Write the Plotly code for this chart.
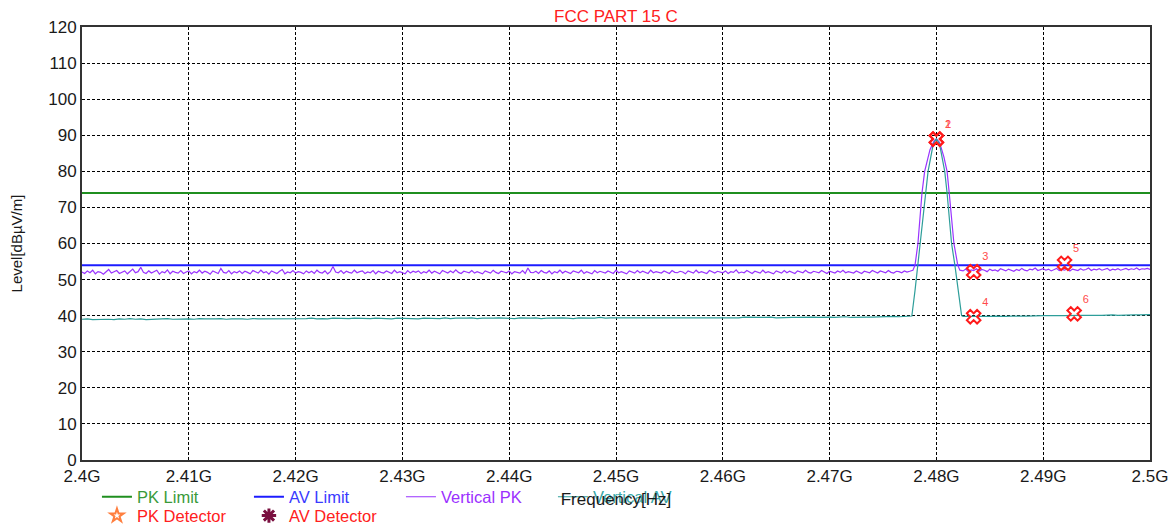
import numpy as np
import plotly.graph_objects as go

# ---------------- data ----------------
PK_LIMIT = 74.0
AV_LIMIT = 54.0

x_ticks = [2.40, 2.41, 2.42, 2.43, 2.44, 2.45, 2.46, 2.47, 2.48, 2.49, 2.50]
x_tick_labels = ["2.4G", "2.41G", "2.42G", "2.43G", "2.44G", "2.45G",
                 "2.46G", "2.47G", "2.48G", "2.49G", "2.5G"]
y_ticks = [0, 10, 20, 30, 40, 50, 60, 70, 80, 90, 100, 110, 120]

# sweep segments (GHz)
left_start, left_stop = 2.4000, 2.4775
right_start, right_stop = 2.4825, 2.5000

pk_left = [
    52.1, 51.7, 52.4, 51.9, 52.6, 51.6, 52.2, 52.0, 51.5, 52.3,
    52.8, 51.8, 52.1, 52.5, 51.7, 52.0, 52.4, 51.6, 52.3, 52.9,
    51.9, 52.2, 53.4, 52.0, 51.7, 52.4, 51.8, 52.1, 52.6, 51.5,
    52.2, 51.9, 52.7, 51.6, 52.3, 52.0, 51.8, 52.5, 51.7, 52.1,
    52.4, 51.6, 52.2, 51.9, 52.6, 51.8, 52.3, 52.0, 51.5, 52.4,
    52.1, 51.7, 53.1, 52.0, 51.8, 52.5, 51.6, 52.2, 51.9, 52.4,
    51.7, 52.3, 52.0, 51.6, 52.5, 52.1, 51.8, 52.6, 51.9, 52.2,
    51.5, 52.4, 52.0, 51.7, 52.3, 52.8, 51.6, 52.1, 51.9, 52.5,
    51.8, 52.2, 52.0, 51.6, 52.4, 51.9, 52.3, 51.7, 52.6, 52.0,
    51.8, 52.4, 51.6, 52.2, 53.6, 52.1, 51.9, 52.5, 51.7, 52.3,
    52.0, 51.8, 52.6, 51.9, 52.2, 52.4, 51.7, 52.1, 51.9, 52.5,
    51.6, 52.3, 52.0, 51.8, 52.4, 52.1, 51.7, 52.6, 51.9, 52.2,
    52.0, 51.6, 52.5, 51.8, 52.3, 52.0, 52.4, 51.7, 52.2, 51.9,
    52.6, 51.8, 52.3, 52.0, 51.6, 52.5, 52.1, 51.8, 52.4, 51.9,
    52.7, 52.0, 51.7, 52.3, 52.1, 51.9, 52.5, 51.8, 52.2, 52.0,
    51.6, 52.4, 52.1, 51.8, 52.6, 52.0, 51.7, 52.3, 52.1, 51.9,
    52.4, 51.6, 52.2, 52.0, 51.8, 52.5, 51.7, 53.2, 52.0, 51.9,
    52.3, 51.7, 52.5, 52.0, 51.8, 52.4, 51.6, 52.2, 51.9, 52.6,
    51.8, 52.3, 52.0, 51.7, 52.4, 52.1, 51.9, 52.6, 51.7, 52.2,
    52.0, 51.6, 52.5, 51.9, 52.3, 52.0, 51.8, 52.4, 52.1, 51.7,
    52.6, 51.9, 52.2, 52.0, 51.6, 52.4, 52.1, 51.8, 52.5, 51.9,
    52.3, 52.0, 51.7, 52.6, 51.9, 52.2, 52.0, 51.8, 52.4, 52.1,
    51.7, 52.5, 52.0, 51.9, 52.3, 52.1, 51.6, 52.4, 52.0, 51.8,
    52.6, 51.9, 52.2, 52.0, 51.7, 52.5, 52.1, 51.8, 52.3, 52.0,
    51.9, 52.4, 51.7, 52.2, 52.0, 52.7, 51.8, 52.1, 51.9, 52.5,
    52.0, 51.7, 52.3, 52.1, 51.8, 52.6, 51.9, 52.2, 52.0, 51.6,
    52.4, 52.1, 51.8, 52.5, 51.9, 52.3, 52.0, 51.7, 52.4, 52.1,
    51.9, 52.6, 52.0, 51.8, 52.3, 52.1, 51.9, 52.5, 52.0, 51.7,
    52.3, 52.1, 51.8, 52.4, 52.0, 52.6, 51.9, 52.2, 52.1, 51.8,
    52.4, 52.0, 51.7, 52.3, 52.1, 51.9, 52.5, 52.2, 51.8, 52.4,
    52.1, 51.9, 52.5, 52.0, 51.8, 52.3, 52.2, 51.9, 52.4, 52.1,
    52.3,
]
pk_peak_f = [2.4778, 2.4780, 2.47827, 2.47865, 2.4789, 2.4794, 2.4798, 2.4800,
             2.4803, 2.4807, 2.4810, 2.4812, 2.48164, 2.4820, 2.4822]
pk_peak_lvl = [52.6, 54.0, 60.0, 74.0, 80.0, 86.0, 88.5, 89.0,
               88.0, 84.0, 80.0, 74.0, 60.0, 54.0, 52.6]
pk_right = [
    52.4, 52.9, 52.2, 52.7, 52.5, 53.0, 52.3, 52.8, 52.6, 52.2,
    52.9, 52.5, 52.7, 52.3, 53.0, 52.6, 52.4, 52.9, 52.7, 52.3,
    52.8, 52.5, 53.1, 52.6, 52.4, 52.9, 52.7, 53.2, 52.5, 52.8,
    53.0, 52.6, 52.9, 52.4, 52.7, 53.1, 52.5, 52.8, 52.6, 53.0,
    52.4, 52.9, 52.7, 52.5, 53.0, 52.6, 52.8, 53.2, 52.5, 52.9,
    52.7, 53.0, 52.6, 52.8, 53.1, 52.5, 52.9, 52.7, 53.0, 52.6,
    52.9, 53.1, 52.7, 53.0, 52.8, 53.2, 52.7, 53.0, 52.9, 53.1,
    52.8,
]

av_left = [
    39.0, 39.1, 38.9, 39.0, 39.1, 39.0, 38.9, 39.1, 39.0, 39.2, 39.0, 39.1, 38.9, 39.0, 39.1, 39.0, 39.2, 39.0, 39.1, 39.0,
    39.1, 39.0, 39.2, 39.1, 39.0, 39.1, 39.2, 39.0, 39.1, 39.2, 39.1, 39.0, 39.2, 39.1, 39.1, 39.2, 39.0, 39.1, 39.2, 39.1,
    39.2, 39.1, 39.2, 39.3, 39.1, 39.2, 39.1, 39.3, 39.2, 39.1, 39.2, 39.3, 39.2, 39.1, 39.2, 39.3, 39.2, 39.2, 39.1, 39.3,
    39.2, 39.3, 39.2, 39.1, 39.3, 39.2, 39.3, 39.2, 39.4, 39.2, 39.3, 39.2, 39.3, 39.4, 39.2, 39.3, 39.2, 39.3, 39.4, 39.3,
    39.3, 39.2, 39.4, 39.3, 39.3, 39.4, 39.2, 39.3, 39.4, 39.3, 39.4, 39.3, 39.2, 39.4, 39.3, 39.4, 39.3, 39.5, 39.3, 39.4,
    39.4, 39.3, 39.4, 39.5, 39.3, 39.4, 39.4, 39.5, 39.3, 39.4, 39.5, 39.4, 39.3, 39.5, 39.4, 39.4, 39.5, 39.4, 39.5, 39.4,
    39.5, 39.4, 39.5, 39.4, 39.6, 39.5, 39.4, 39.5, 39.5, 39.6, 39.4, 39.5, 39.6, 39.5, 39.5, 39.6, 39.5, 39.6, 39.5, 39.6,
    39.6, 39.5, 39.6, 39.7, 39.5, 39.6, 39.7, 39.6, 39.6, 39.7, 39.6, 39.7, 39.8, 39.7, 39.8, 39.9,
]
av_peak_f = [2.4777, 2.47800, 2.47827, 2.4790, 2.47922, 2.4797, 2.4800,
             2.4803, 2.48078, 2.4810, 2.48142, 2.48173, 2.48205, 2.48236]
av_peak_lvl = [39.9, 47.0, 54.0, 74.0, 80.0, 87.5, 89.0,
               87.5, 80.0, 74.0, 60.0, 54.0, 46.0, 40.0]
av_right = [
    39.8, 39.7, 39.8, 39.8, 39.7, 39.8, 39.9, 39.8, 39.8, 39.9, 39.8, 39.9, 39.9, 40.0, 39.9, 40.0, 40.0, 40.1,
    40.0, 40.0, 40.1, 40.0, 40.1, 40.1, 40.2, 40.1, 40.1, 40.2, 40.2, 40.1, 40.2, 40.3, 40.2, 40.2, 40.3, 40.3,
]

# detector markers
pk_det_no = ["1", "3", "5"]
pk_det_f = [2.4800, 2.48349, 2.4920]
pk_det_lvl = [89.0, 52.2, 54.5]
av_det_no = ["2", "4", "6"]
av_det_f = [2.4800, 2.48349, 2.4929]
av_det_lvl = [88.9, 39.7, 40.5]

# ---------------- build traces ----------------
def sweep(start, stop, vals):
    return list(np.linspace(start, stop, len(vals)))

pk_f = sweep(left_start, left_stop, pk_left) + pk_peak_f + sweep(right_start, right_stop, pk_right)
pk_l = pk_left + pk_peak_lvl + pk_right
av_f = sweep(left_start, left_stop, av_left) + av_peak_f + sweep(right_start, right_stop, av_right)
av_l = av_left + av_peak_lvl + av_right

C_PK = "#1f8f1f"
C_AV = "#1c1cff"
C_VPK = "#9933ff"
C_VAV = "#2e9e9a"
C_RED = "#ff2020"

FONT = "Liberation Sans, Arial, sans-serif"
FS = 17
LFS = 16.5

fig = go.Figure()

fig.add_trace(go.Scatter(x=[2.4, 2.5], y=[PK_LIMIT, PK_LIMIT], mode="lines",
                         line=dict(color=C_PK, width=2),
                         name="<span style='color:#3a9a3a'>PK Limit</span>", legend="legend"))
fig.add_trace(go.Scatter(x=[2.4, 2.5], y=[AV_LIMIT, AV_LIMIT], mode="lines",
                         line=dict(color=C_AV, width=2),
                         name="<span style='color:#3a3aff'>AV Limit</span>", legend="legend"))
fig.add_trace(go.Scatter(x=pk_f, y=pk_l, mode="lines",
                         line=dict(color=C_VPK, width=1.2),
                         name="<span style='color:#9b30ff'>Vertical PK</span>", legend="legend"))
fig.add_trace(go.Scatter(x=av_f, y=av_l, mode="lines",
                         line=dict(color=C_VAV, width=1.2),
                         name="<span style='color:#38a8a8'>Vertical AV</span>", legend="legend"))

# detector marks on plot
for nos, fs, lv in [(pk_det_no, pk_det_f, pk_det_lvl), (av_det_no, av_det_f, av_det_lvl)]:
    fig.add_trace(go.Scatter(x=fs, y=lv, mode="markers+text", text=nos,
                             textposition="top right",
                             textfont=dict(color="#ff4a4a", size=11, family=FONT),
                             marker=dict(symbol="x-open", size=12, color="#ff1a1a", line=dict(width=2)),
                             showlegend=False))

# legend-only entries for detectors
fig.add_trace(go.Scatter(x=[None], y=[None], mode="markers",
                         marker=dict(symbol="star-open", size=10, color="#ff7f3f", line=dict(width=2)),
                         name=f"<span style='color:{C_RED}'>PK Detector</span>", legend="legend2"))
fig.add_trace(go.Scatter(x=[None], y=[None], mode="markers",
                         marker=dict(symbol="asterisk-open", size=12, color="#7a1040", line=dict(width=3)),
                         name=f"<span style='color:{C_RED}'>AV Detector</span>", legend="legend2"))

fig.update_layout(
    width=1168, height=526,
    margin=dict(l=82, r=18, t=27, b=66, autoexpand=False),
    paper_bgcolor="white", plot_bgcolor="white",
    font=dict(family=FONT, size=FS, color="#1a1a1a"),
    showlegend=True,
    legend=dict(orientation="h", x=0.014, xanchor="left", y=-0.0855, yanchor="middle",
                entrywidth=107, entrywidthmode="pixels", bgcolor="rgba(0,0,0,0)",
                font=dict(size=LFS, family=FONT), itemclick=False, traceorder="normal"),
    legend2=dict(orientation="h", x=0.014, xanchor="left", y=-0.129, yanchor="middle",
                 entrywidth=107, entrywidthmode="pixels", bgcolor="rgba(0,0,0,0)",
                 font=dict(size=LFS, family=FONT), itemclick=False, traceorder="normal"),
    annotations=[dict(text="FCC PART 15 C", x=0.5, xref="paper", y=1, yref="paper",
                      yanchor="bottom", yshift=-1, showarrow=False,
                      font=dict(color="#ff2020", size=17, family=FONT))],
)

fig.update_xaxes(range=[2.4, 2.5], tickvals=x_ticks, ticktext=x_tick_labels,
                 showgrid=True, gridcolor="#000000", gridwidth=1, griddash="3px,2px",
                 showline=True, linecolor="#333333", linewidth=2, mirror=True,
                 zeroline=False, ticks="", ticklabeloverflow="allow",
                 tickfont=dict(size=FS, color="#1a1a1a"),
                 title=dict(text="Frequency[Hz]", standoff=8, font=dict(size=FS, color="#1a1a1a")))
fig.update_yaxes(range=[0, 120], tickvals=y_ticks,
                 showgrid=True, gridcolor="#000000", gridwidth=1, griddash="3px,2px",
                 showline=True, linecolor="#333333", linewidth=2, mirror=True,
                 zeroline=False, ticks="", ticklabeloverflow="allow",
                 tickfont=dict(size=FS, color="#1a1a1a"),
                 title=dict(text="Level[dBµV/m]", standoff=22, font=dict(size=15, color="#1a1a1a")))

fig.write_html("out.html", config={"displayModeBar": False},
               post_script="document.body.style.margin='0px';")
